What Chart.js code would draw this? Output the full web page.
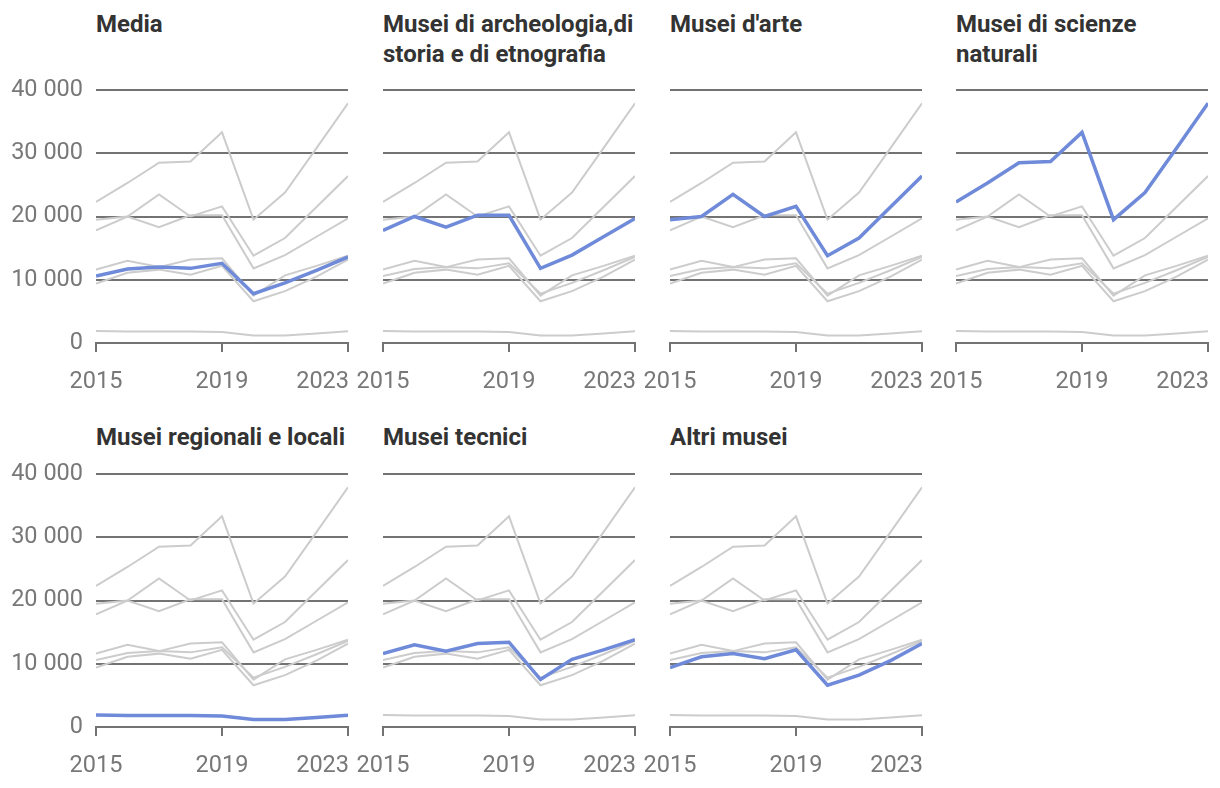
<!DOCTYPE html>
<html>
<head>
<meta charset="utf-8">
<script src="https://cdn.jsdelivr.net/npm/chart.js@4.4.1/dist/chart.umd.min.js"></script>
<style>
  body { margin: 0; background: #fff; width: 1220px; height: 788px; position: relative; overflow: hidden; font-family: Roboto, sans-serif; }
  .panel { position: absolute; }
  .title { position: absolute; font-weight: bold; font-size: 24px; line-height: 30px; color: #333; white-space: nowrap; }
</style>
</head>
<body>
<script>
// dati: visitatori medi per museo, 2015-2023
const years = [2015, 2016, 2017, 2018, 2019, 2020, 2021, 2022, 2023];
const xTicks = [2015, 2019, 2023];
const yTicks = [0, 10000, 20000, 30000, 40000];

const media       = [10600, 11700, 12000, 11800, 12600, 7800, 9500, 11500, 13600];
const archeologia = [17800, 20000, 18300, 20200, 20200, 11800, 13900, 16800, 19700];
const arte        = [19500, 20000, 23500, 20000, 21600, 13800, 16600, 21500, 26400];
const scienze     = [22300, 25300, 28500, 28700, 33300, 19500, 23800, 30800, 37900];
const regionali   = [1900, 1800, 1800, 1800, 1750, 1200, 1200, 1500, 1850];
const tecnici     = [11600, 13000, 12000, 13200, 13400, 7500, 10700, 12200, 13800];
const altri       = [9400, 11100, 11600, 10800, 12200, 6600, 8200, 10500, 13200];

const titles = [
  ['Media'],
  ['Musei di archeologia,di', 'storia e di etnografia'],
  ["Musei d'arte"],
  ['Musei di scienze', 'naturali'],
  ['Musei regionali e locali'],
  ['Musei tecnici'],
  ['Altri musei']
];
const series = [media, archeologia, arte, scienze, regionali, tecnici, altri];

const BLUE = '#6f8ad9';
const GREY = '#cccccc';
const AXIS = '#737373';
const TEXT = '#787878';

const plotLeft = [96, 383, 670, 956];
const rowTop = [0, 384];
const titleTop = [9, 422];

const fmt = v => String(v).replace(/\B(?=(\d{3})+(?!\d))/g, ' ');

// etichette anni: la prima e quella centrale centrate, l'ultima allineata a destra
const yearLabels = {
  id: 'yearLabels',
  afterDraw(chart) {
    const sx = chart.scales.x;
    const ctx = chart.ctx;
    ctx.save();
    ctx.font = '23.5px Roboto';
    ctx.fillStyle = TEXT;
    ctx.textBaseline = 'middle';
    sx.ticks.forEach((t, i) => {
      const last = i === sx.ticks.length - 1;
      const px = sx.getPixelForValue(t.value);
      ctx.textAlign = last ? 'right' : 'center';
      ctx.fillText(String(t.value), last ? px + 1 : px, sx.bottom - 6);
    });
    ctx.restore();
  }
};

function makePanel(k) {
  const col = k % 4, row = Math.floor(k / 4);

  const title = document.createElement('div');
  title.className = 'title';
  title.style.left = plotLeft[col] + 'px';
  title.style.top = titleTop[row] + 'px';
  title.innerHTML = titles[k].join('<br>');
  document.body.appendChild(title);

  const wrap = document.createElement('div');
  wrap.className = 'panel';
  wrap.style.left = (plotLeft[col] - 96) + 'px';
  wrap.style.top = rowTop[row] + 'px';
  const canvas = document.createElement('canvas');
  canvas.width = 356;
  canvas.height = 388;
  wrap.appendChild(canvas);
  document.body.appendChild(wrap);

  const datasets = series.map((vals, i) => ({
    label: titles[i].join(' '),
    data: years.map((y, j) => ({ x: y, y: vals[j] })),
    borderColor: i === k ? BLUE : GREY,
    borderWidth: i === k ? 3.5 : 2,
    pointRadius: 0,
    tension: 0,
    order: i === k ? 0 : 1
  }));

  new Chart(canvas, {
    type: 'line',
    data: { datasets },
    options: {
      responsive: false,
      animation: false,
      layout: { padding: { top: 90, right: 8, left: 0, bottom: 0 } },
      plugins: { legend: { display: false }, tooltip: { enabled: false } },
      scales: {
        x: {
          type: 'linear',
          min: 2015,
          max: 2023,
          afterBuildTicks: s => { s.ticks = xTicks.map(v => ({ value: v })); },
          afterFit: s => { s.height = 45; },
          ticks: { display: false },
          grid: { drawOnChartArea: false, drawTicks: true, tickLength: 9, color: AXIS, lineWidth: 2 },
          border: { display: true, color: AXIS, width: 2 }
        },
        y: {
          min: 0,
          max: 40000,
          afterBuildTicks: s => { s.ticks = yTicks.map(v => ({ value: v })); },
          afterFit: s => { s.width = 96; },
          ticks: {
            display: col === 0,
            padding: 13,
            color: TEXT,
            font: { family: 'Roboto', size: 23.5 },
            callback: v => fmt(v)
          },
          grid: {
            drawTicks: false,
            color: c => c.tick && c.tick.value === 0 ? 'rgba(0,0,0,0)' : AXIS,
            lineWidth: 2
          },
          border: { display: false }
        }
      }
    },
    plugins: [yearLabels]
  });
}

for (let k = 0; k < series.length; k++) makePanel(k);
</script>
</body>
</html>
